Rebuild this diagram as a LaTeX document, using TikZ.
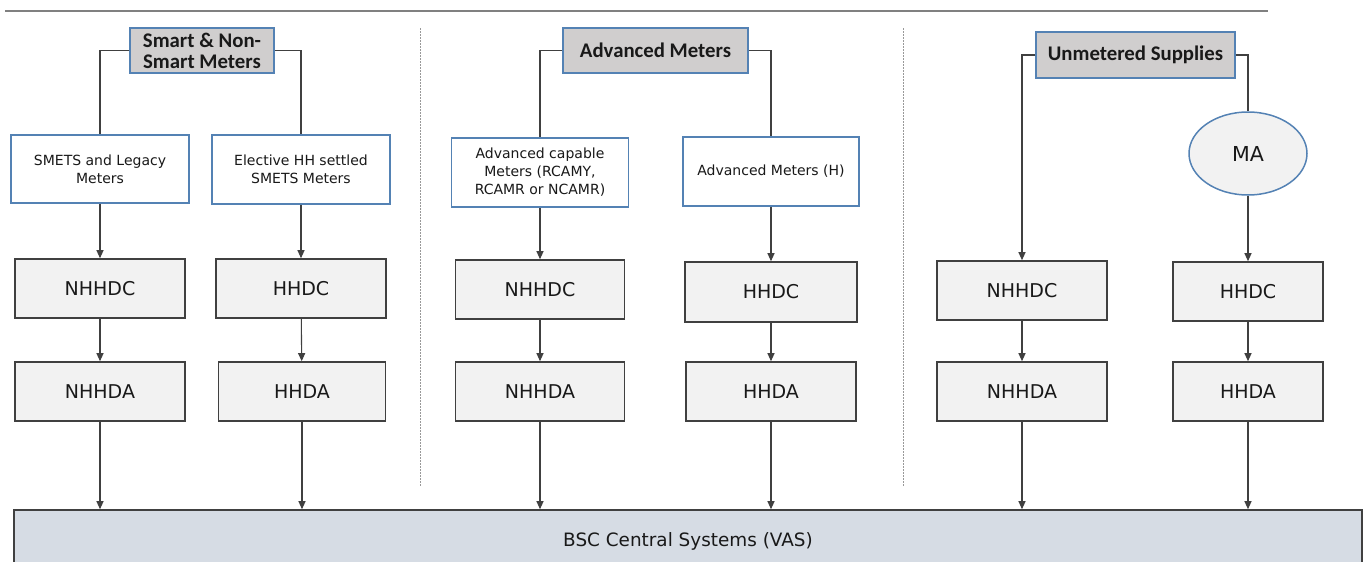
\documentclass[tikz,border=0pt]{standalone}
\usepackage{fontspec}
\setmainfont{DejaVu Sans}
\newfontfamily\headfont{Carlito}
\usetikzlibrary{arrows.meta,shapes.geometric}

\newlength{\du}
\setlength{\du}{0.5pt}

\definecolor{headfill}{RGB}{208,206,206}
\definecolor{boxline}{RGB}{84,130,180}
\definecolor{dcfill}{RGB}{242,242,242}
\definecolor{darkline}{RGB}{64,64,64}
\definecolor{vasfill}{RGB}{214,220,228}
\definecolor{ruleline}{RGB}{128,128,128}

\tikzset{
  headbox/.style={draw=boxline, fill=headfill, line width=1.5\du, inner sep=0pt, align=center, text=black!90,
    font=\headfont\bfseries\fontsize{10.4}{10.4}\selectfont},
  meterbox/.style={draw=boxline, fill=white, line width=1.5\du, inner sep=0pt, align=center, text=black!90,
    font=\fontsize{7}{9}\selectfont},
  agentbox/.style={draw=darkline, fill=dcfill, line width=1.6\du, inner sep=0pt, text=black!90,
    font=\fontsize{9.5}{11}\selectfont},
  feed/.style={draw=darkline, line width=1.1\du},
  flow/.style={feed, -{Triangle[length=4pt,width=3.5pt]}},
  sepline/.style={draw=ruleline!80, line width=1\du, dash pattern=on 1.5\du off 1.5\du},
}

\begin{document}
\begin{tikzpicture}
\pgftransformxscale{1.000000}
\pgftransformyscale{-1.000000}
\useasboundingbox (0\du,0\du) rectangle (1367\du,562\du);
\clip (0\du,0\du) rectangle (1367\du,562\du);

% rule and separators
\draw[line width=1.5\du, ruleline] (5\du,11\du)--(1268\du,11\du);
\draw[sepline] (420\du,28\du)--(420\du,487\du);
\draw[sepline] (903\du,28\du)--(903\du,487\du);

% smart and non-smart
\node[headbox, minimum width=144\du, minimum height=45\du] (hsmart) at (202\du,50.5\du){Smart \& Non-\\Smart Meters};
\node[meterbox, minimum width=178\du, minimum height=68\du] (smets) at (100\du,169\du){SMETS and Legacy\\Meters};
\node[meterbox, minimum width=178\du, minimum height=69\du] (elect) at (301\du,169.5\du){Elective HH settled\\SMETS Meters};
\node[agentbox, minimum width=170\du, minimum height=59\du] (nhhdcA) at (100\du,288.5\du){NHHDC};
\node[agentbox, minimum width=170\du, minimum height=59\du] (hhdcA) at (301\du,288.5\du){HHDC};
\node[agentbox, minimum width=170\du, minimum height=59\du] (nhhdaA) at (100\du,391.5\du){NHHDA};
\node[agentbox, minimum width=167\du, minimum height=59\du] (hhdaA) at (302\du,391.5\du){HHDA};

% advanced
\node[headbox, minimum width=185\du, minimum height=45\du] (hadv) at (655.5\du,50.5\du){Advanced Meters};
\node[meterbox, minimum width=177\du, minimum height=69\du] (advcap) at (540\du,172.5\du){Advanced capable\\Meters (RCAMY,\\RCAMR or NCAMR)};
\node[meterbox, minimum width=176\du, minimum height=69\du] (advh) at (771\du,171.5\du){Advanced Meters (H)};
\node[agentbox, minimum width=169\du, minimum height=59\du] (nhhdcB) at (540\du,289.5\du){NHHDC};
\node[agentbox, minimum width=172\du, minimum height=60\du] (hhdcB) at (771\du,292\du){HHDC};
\node[agentbox, minimum width=169\du, minimum height=59\du] (nhhdaB) at (540\du,391.5\du){NHHDA};
\node[agentbox, minimum width=170\du, minimum height=59\du] (hhdaB) at (771\du,391.5\du){HHDA};

% unmetered
\node[headbox, minimum width=199\du, minimum height=46\du] (hunm) at (1135.5\du,55\du){Unmetered Supplies};
\node[draw=boxline, fill=dcfill, line width=1.5\du, ellipse, inner sep=0pt, minimum width=118\du, minimum height=83\du,
  font=\fontsize{10.3}{12}\selectfont, text=black!90] (ma) at (1248\du,153.5\du){MA};
\node[agentbox, minimum width=170\du, minimum height=59\du] (nhhdcC) at (1022\du,290.5\du){NHHDC};
\node[agentbox, minimum width=150\du, minimum height=59\du] (hhdcC) at (1248\du,291.5\du){HHDC};
\node[agentbox, minimum width=170\du, minimum height=59\du] (nhhdaC) at (1022\du,391.5\du){NHHDA};
\node[agentbox, minimum width=150\du, minimum height=59\du] (hhdaC) at (1248\du,391.5\du){HHDA};

% central systems
\node[agentbox, fill=vasfill, minimum width=1348\du, minimum height=62\du, font=\fontsize{9.2}{11}\selectfont] (bsc) at (688\du,541\du){BSC Central Systems (VAS)};

% connectors
\draw[feed] (hsmart.west) -| (smets.north);
\draw[feed] (hsmart.east) -| (elect.north);
\draw[feed] (hadv.west) -| (advcap.north);
\draw[feed] (hadv.east) -| (advh.north);
\draw[flow] (hunm.west) -| (nhhdcC.north);
\draw[feed] (hunm.east) -| (ma.north);

\draw[flow] (smets)--(nhhdcA);
\draw[flow] (elect)--(hhdcA);
\draw[flow] (advcap)--(nhhdcB);
\draw[flow] (advh)--(hhdcB);
\draw[flow] (ma)--(hhdcC);

\draw[flow] (nhhdcA)--(nhhdaA);
\draw[flow] (hhdcA)--(hhdaA);
\draw[flow] (nhhdcB)--(nhhdaB);
\draw[flow] (hhdcB)--(hhdaB);
\draw[flow] (nhhdcC)--(nhhdaC);
\draw[flow] (hhdcC)--(hhdaC);

\draw[flow] (nhhdaA)--(nhhdaA |- bsc.north);
\draw[flow] (hhdaA)--(hhdaA |- bsc.north);
\draw[flow] (nhhdaB)--(nhhdaB |- bsc.north);
\draw[flow] (hhdaB)--(hhdaB |- bsc.north);
\draw[flow] (nhhdaC)--(nhhdaC |- bsc.north);
\draw[flow] (hhdaC)--(hhdaC |- bsc.north);
\end{tikzpicture}
\end{document}
